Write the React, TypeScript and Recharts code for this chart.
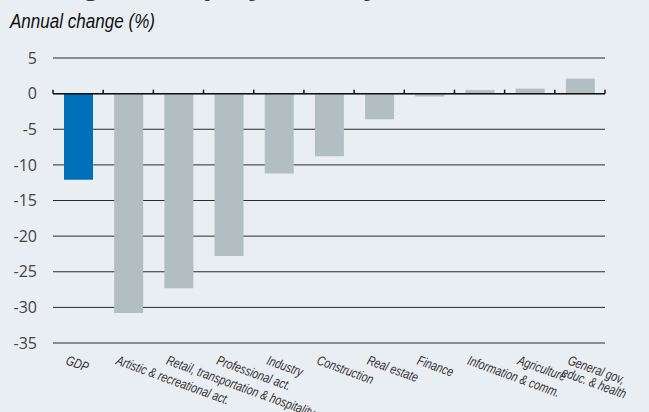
import { Bar, BarChart, CartesianGrid, Cell, ReferenceLine, XAxis, YAxis } from "recharts";

const sectors = [
  "GDP",
  "Artistic & recreational act.",
  "Retail, transportation & hospitality",
  "Professional act.",
  "Industry",
  "Construction",
  "Real estate",
  "Finance",
  "Information & comm.",
  "Agriculture",
  "General gov,|educ. & health",
];
const annualChange = [-12.1, -30.8, -27.3, -22.8, -11.2, -8.8, -3.6, -0.4, 0.5, 0.7, 2.1];
const yTicks = [5, 0, -5, -10, -15, -20, -25, -30, -35];

const chartData = sectors.map((name, i) => ({ name, value: annualChange[i] }));

const BG = "#e9eef2";
const GREY_BAR = "#b3bec2";
const BLUE_BAR = "#0070b8";
const labelFont = "'Liberation Sans', Arial, sans-serif";

function SectorTick(props: any) {
  const { x, y, payload } = props;
  const lines = String(payload.value).split("|");
  const tx = x - 13;
  const ty = y + 13;
  return (
    <g transform={`translate(${tx}, ${ty}) rotate(20) scale(0.78, 1)`}>
      {lines.map((line, i) => (
        <text
          key={i}
          x={-i * 2}
          y={i * 13}
          textAnchor="start"
          fontFamily={labelFont}
          fontStyle="italic"
          fontSize={13.5}
          fill="#333"
        >
          {line}
        </text>
      ))}
    </g>
  );
}

// zero line with category separator ticks pointing up
function ZeroAxis(props: any) {
  const { x1, x2, y1 } = props;
  const n = sectors.length;
  const step = (x2 - x1) / n;
  const ticks = Array.from({ length: n + 1 }, (_, i) => x1 + i * step);
  return (
    <g>
      <line x1={x1} x2={x2} y1={y1} y2={y1} stroke="#111" strokeWidth={1.5} />
      {ticks.map((tx, i) => (
        <line key={i} x1={tx} x2={tx} y1={y1} y2={y1 - 4} stroke="#111" strokeWidth={1.5} />
      ))}
    </g>
  );
}

export default function App() {
  return (
    <div style={{ position: "fixed", top: 0, left: 0, width: 649, height: 412, background: BG }}>
      <svg width={649} height={40} style={{ position: "absolute", top: 0, left: 0 }}>
        <text
          x={9}
          y={-5}
          fontFamily={labelFont}
          fontStyle="italic"
          fontWeight="bold"
          fontSize={30}
          fill="#333"
        >
          Change in employment by sector
        </text>
        <text
          x={10}
          y={28}
          fontFamily={labelFont}
          fontStyle="italic"
          fontSize={20}
          fill="#111"
          textLength={145}
          lengthAdjust="spacingAndGlyphs"
        >
          Annual change (%)
        </text>
      </svg>
      <BarChart
        width={649}
        height={412}
        data={chartData}
        margin={{ top: 58, right: 44, bottom: 0, left: 0 }}
        style={{ position: "absolute", top: 0, left: 0 }}
      >
        <CartesianGrid vertical={false} stroke="#2a2a2a" strokeWidth={1} />
        <XAxis
          dataKey="name"
          axisLine={false}
          tickLine={false}
          height={69}
          interval={0}
          tick={<SectorTick />}
        />
        <YAxis
          type="number"
          domain={[-35, 5]}
          ticks={yTicks}
          width={53}
          axisLine={false}
          tickLine={false}
          tickMargin={10}
          tick={{ fontFamily: "'Open Sans', sans-serif", fontSize: 16, fill: "#444" }}
        />
        <Bar dataKey="value" barSize={29} isAnimationActive={false}>
          {chartData.map((d, i) => (
            <Cell key={i} fill={d.name === "GDP" ? BLUE_BAR : GREY_BAR} />
          ))}
        </Bar>
        <ReferenceLine y={0} shape={<ZeroAxis />} />
      </BarChart>
    </div>
  );
}
